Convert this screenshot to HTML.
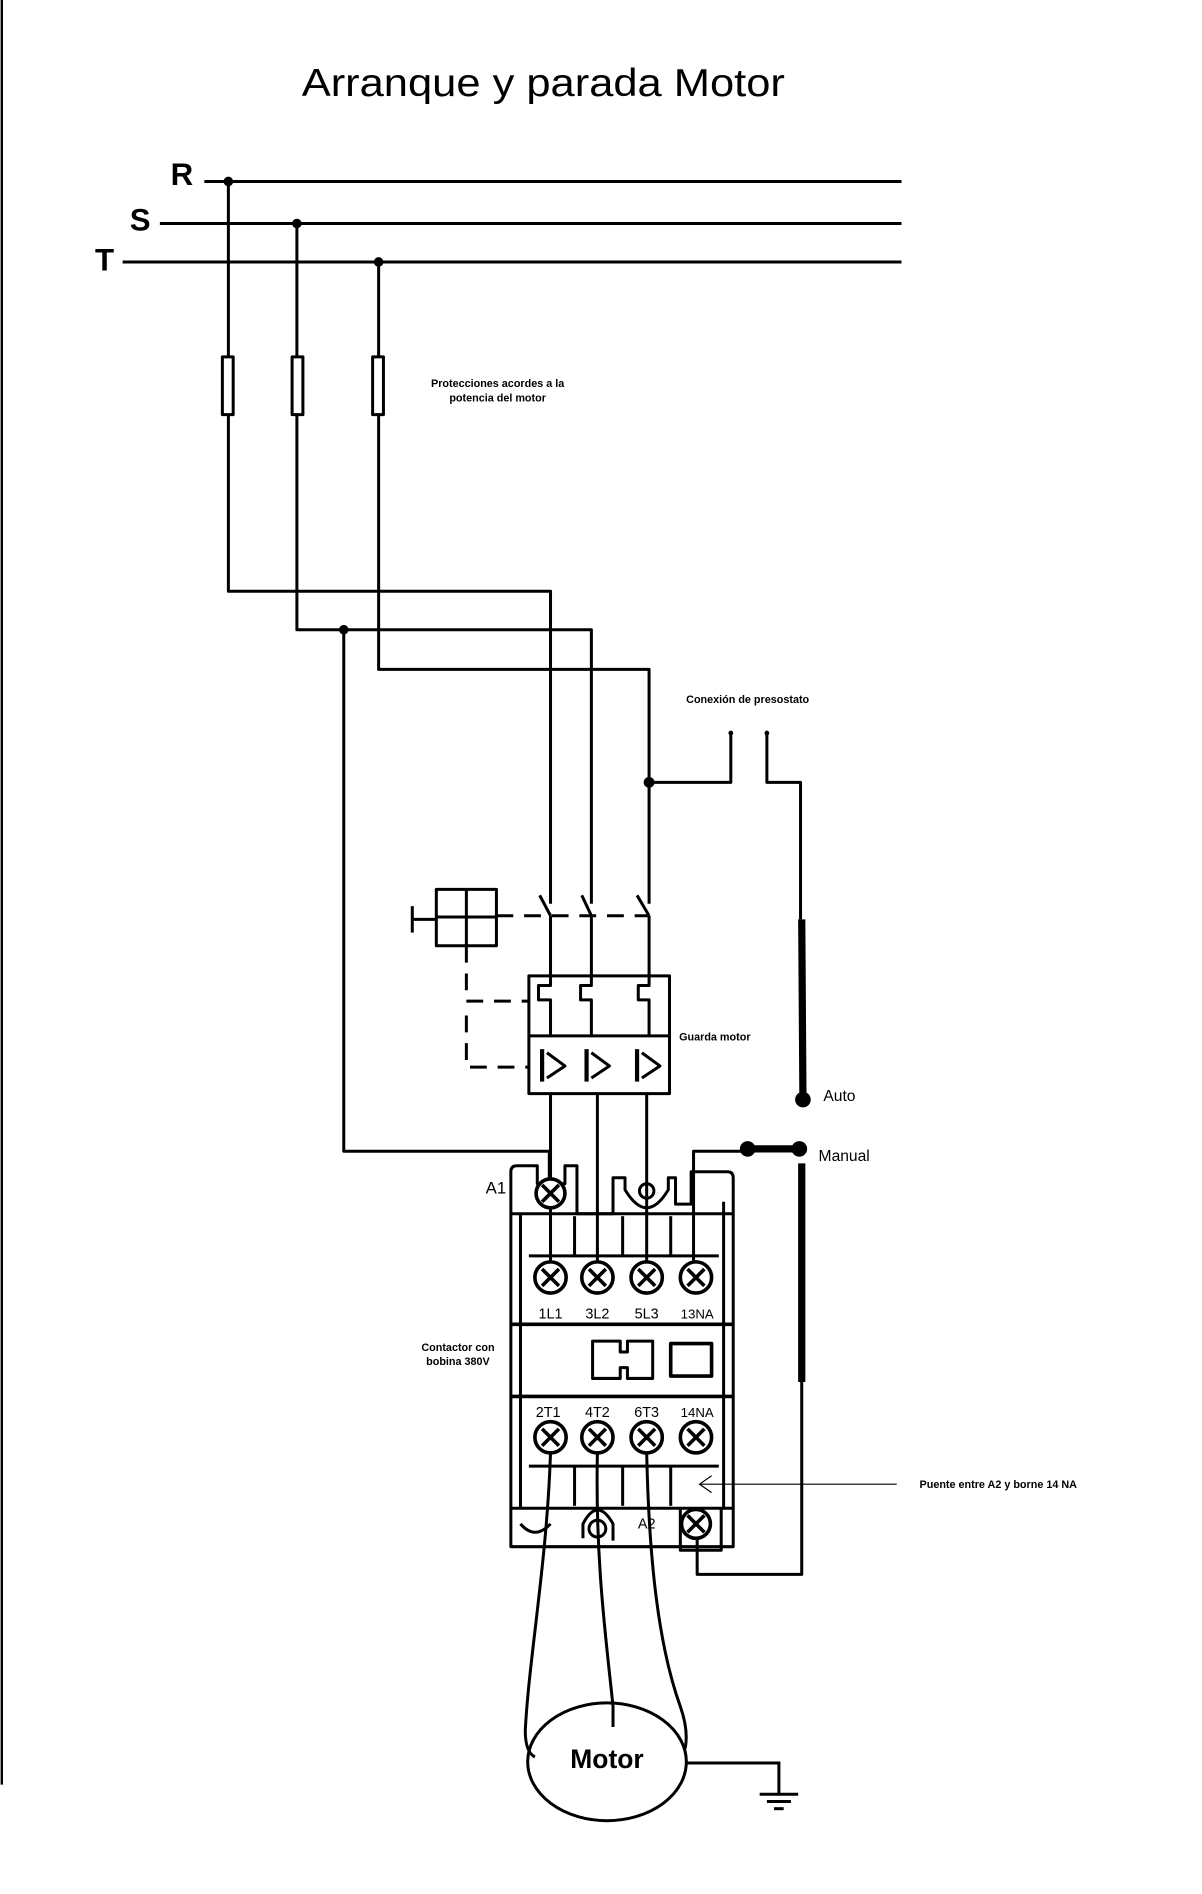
<!DOCTYPE html>
<html><head><meta charset="utf-8"><style>
html,body{margin:0;padding:0;background:#fff}
svg{display:block}
text{font-family:"Liberation Sans",sans-serif;fill:#000}
</style></head><body>
<svg width="1202" height="1894" viewBox="0 0 1000 1576" preserveAspectRatio="none" xmlns="http://www.w3.org/2000/svg">
<g fill="none" stroke="#000" stroke-width="2.5" stroke-linejoin="round">
<line x1="1.5" y1="0" x2="1.5" y2="1485" stroke-width="2"/>
<!-- buses -->
<line x1="170" y1="151" x2="750" y2="151"/>
<line x1="133" y1="186" x2="750" y2="186"/>
<line x1="102" y1="218" x2="750" y2="218"/>
<!-- verticals -->
<polyline points="190,151 190,492 458,492 458,752"/>
<polyline points="247,186 247,524 492,524 492,752"/>
<polyline points="315,218 315,557 540,557 540,752"/>
<polyline points="286,524 286,958 457,958 457,985"/>
<!-- fuses -->
<rect x="185" y="297" width="9" height="48" fill="#fff"/>
<rect x="243" y="297" width="9" height="48" fill="#fff"/>
<rect x="310" y="297" width="9" height="48" fill="#fff"/>
<!-- presostato -->
<polyline points="540,651 608,651 608,610"/>
<polyline points="638,610 638,651 666,651 666,765"/>
<line x1="667" y1="765" x2="668" y2="915" stroke-width="6"/>
<line x1="667" y1="968" x2="667" y2="1150" stroke-width="6"/>
<polyline points="667,1150 667,1310 580,1310 580,1268"/>
<line x1="622" y1="956" x2="665" y2="956" stroke-width="6"/>
<polyline points="622,958 577,958 577,1062"/>
<!-- switch blades -->
<line x1="449" y1="745" x2="458" y2="762"/><line x1="458" y1="762" x2="458" y2="812"/>
<line x1="484" y1="745" x2="492" y2="762"/><line x1="492" y1="762" x2="492" y2="812"/>
<line x1="530" y1="745" x2="540" y2="762"/><line x1="540" y1="762" x2="540" y2="812"/>
<!-- dashed mechanical link -->
<line x1="413" y1="762" x2="540" y2="762" stroke-dasharray="14,9"/>
<polyline points="388,787 388,833 440,833" stroke-dasharray="14,9"/>
<polyline points="388,845 388,888 440,888" stroke-dasharray="14,9"/>
<line x1="343" y1="754" x2="343" y2="776"/><line x1="343" y1="765" x2="363" y2="765"/>
<rect x="363" y="740" width="50" height="47"/>
<line x1="388" y1="740" x2="388" y2="787"/><line x1="363" y1="763" x2="413" y2="763"/>
<!-- guarda motor -->
<rect x="440" y="812" width="117" height="98"/>
<line x1="440" y1="862" x2="557" y2="862"/>
<polyline points="458,812 458,820 448,820 448,832 458,832 458,862"/>
<polyline points="492,812 492,820 483,820 483,832 492,832 492,862"/>
<polyline points="540,812 540,820 531,820 531,832 540,832 540,862"/>
<line x1="451" y1="873" x2="451" y2="900" stroke-width="3.5"/><polyline points="455,876 470,887 455,897"/>
<line x1="488" y1="873" x2="488" y2="900" stroke-width="3.5"/><polyline points="492,876 507,887 492,897"/>
<line x1="530" y1="873" x2="530" y2="900" stroke-width="3.5"/><polyline points="534,876 549,887 534,897"/>
<line x1="458" y1="910" x2="458" y2="1062"/>
<line x1="497" y1="910" x2="497" y2="1062"/>
<line x1="538" y1="910" x2="538" y2="1062"/>
<!-- contactor -->
<path d="M425,1287 L425,975 Q425,970 430,970 L447,970 L447,985 L470,985 L470,970 L480,970 L480,1010 L510,1010 L510,980 L520,980 L520,990 Q538,1020 556,990 L556,980 L562,980 L562,1002 L575,1002 L575,975 L605,975 Q610,975 610,980 L610,1287 Z"/>
<line x1="425" y1="1010" x2="610" y2="1010"/>
<line x1="433" y1="1010" x2="433" y2="1255"/><line x1="602" y1="1000" x2="602" y2="1255"/>
<line x1="440" y1="1045" x2="598" y2="1045"/>
<line x1="478" y1="1012" x2="478" y2="1045"/><line x1="518" y1="1012" x2="518" y2="1045"/><line x1="558" y1="1012" x2="558" y2="1045"/>
<line x1="425" y1="1102" x2="610" y2="1102" stroke-width="3"/>
<line x1="425" y1="1162" x2="610" y2="1162" stroke-width="3"/>
<line x1="440" y1="1220" x2="598" y2="1220"/>
<line x1="478" y1="1220" x2="478" y2="1253"/><line x1="518" y1="1220" x2="518" y2="1253"/><line x1="558" y1="1220" x2="558" y2="1253"/>
<line x1="425" y1="1255" x2="610" y2="1255"/>
<path d="M485,1280 L485,1268 Q497,1245 510,1268 L510,1282"/>
<circle cx="497" cy="1272" r="7"/>
<path d="M433,1268 Q445,1282 458,1268"/>
<path d="M566,1255 L566,1290 L600,1290 L600,1255"/>
<path d="M493,1116 H516 V1125 H522 V1116 H543 V1147 H522 V1138 H516 V1147 H493 Z"/>
<rect x="558" y="1118" width="34" height="27" stroke-width="3"/>
<circle cx="538" cy="991" r="6"/>
</g>
<!-- terminals -->
<g id="t" stroke="#000" fill="#fff" stroke-width="3">
<circle cx="458" cy="993" r="12"/>
<circle cx="458" cy="1063" r="13"/><circle cx="497" cy="1063" r="13"/><circle cx="538" cy="1063" r="13"/><circle cx="579" cy="1063" r="13"/>
<circle cx="458" cy="1196" r="13"/><circle cx="497" cy="1196" r="13"/><circle cx="538" cy="1196" r="13"/><circle cx="579" cy="1196" r="13"/>
<circle cx="579" cy="1268" r="12"/>
</g>
<g stroke="#000" stroke-width="3">
<path d="M451,986 l14,14 M465,986 l-14,14 M451,1056 l14,14 M465,1056 l-14,14 M490,1056 l14,14 M504,1056 l-14,14 M531,1056 l14,14 M545,1056 l-14,14 M572,1056 l14,14 M586,1056 l-14,14 M451,1189 l14,14 M465,1189 l-14,14 M490,1189 l14,14 M504,1189 l-14,14 M531,1189 l14,14 M545,1189 l-14,14 M572,1189 l14,14 M586,1189 l-14,14 M572,1261 l14,14 M586,1261 l-14,14"/>
</g>
<!-- motor wires -->
<g fill="none" stroke="#000" stroke-width="2.5">
<path d="M458,1209 C455,1300 440,1380 437,1440 Q437,1458 445,1462"/>
<path d="M497,1209 C495,1300 505,1370 510,1420 L510,1437"/>
<path d="M538,1209 C540,1300 548,1370 566,1420 Q573,1440 570,1455"/>
<ellipse cx="505" cy="1466" rx="66" ry="49"/>
<polyline points="571,1467 648,1467 648,1493"/>
<line x1="632" y1="1493" x2="664" y2="1493"/><line x1="638" y1="1499" x2="658" y2="1499"/><line x1="644" y1="1505" x2="652" y2="1505"/>
<line x1="582" y1="1235" x2="746" y2="1235" stroke-width="1"/>
<polyline points="592,1228 582,1235 592,1242" stroke-width="1"/>
</g>
<!-- dots -->
<g fill="#000">
<circle cx="190" cy="151" r="4"/><circle cx="247" cy="186" r="4"/><circle cx="315" cy="218" r="4"/>
<circle cx="286" cy="524" r="4"/><circle cx="540" cy="651" r="4.5"/>
<circle cx="608" cy="610" r="2"/><circle cx="638" cy="610" r="2"/>
<circle cx="668" cy="915" r="6.5"/><circle cx="622" cy="956" r="6.5"/><circle cx="665" cy="956" r="6.5"/>
</g>
<!-- text -->
<text x="452" y="80" font-size="32" text-anchor="middle" textLength="402" lengthAdjust="spacingAndGlyphs">Arranque y parada Motor</text>
<text x="142" y="154" font-size="26" font-weight="bold">R</text>
<text x="108" y="192" font-size="26" font-weight="bold">S</text>
<text x="79" y="225" font-size="26" font-weight="bold">T</text>
<text x="414" y="322" font-size="9" font-weight="bold" text-anchor="middle">Protecciones acordes a la</text>
<text x="414" y="334" font-size="9" font-weight="bold" text-anchor="middle">potencia del motor</text>
<text x="622" y="585" font-size="9" font-weight="bold" text-anchor="middle">Conexión de presostato</text>
<text x="565" y="866" font-size="9" font-weight="bold">Guarda motor</text>
<text x="685" y="916" font-size="13">Auto</text>
<text x="681" y="966" font-size="13">Manual</text>
<text x="404" y="993" font-size="14">A1</text>
<g font-size="12" text-anchor="middle">
<text x="458" y="1097">1L1</text><text x="497" y="1097">3L2</text><text x="538" y="1097">5L3</text><text x="580" y="1097" font-size="11">13NA</text>
<text x="456" y="1179">2T1</text><text x="497" y="1179">4T2</text><text x="538" y="1179">6T3</text><text x="580" y="1179" font-size="11">14NA</text>
<text x="538" y="1272">A2</text>
</g>
<text x="381" y="1124" font-size="9" font-weight="bold" text-anchor="middle">Contactor con</text>
<text x="381" y="1136" font-size="9" font-weight="bold" text-anchor="middle">bobina 380V</text>
<text x="765" y="1238" font-size="9" font-weight="bold">Puente entre A2 y borne 14 NA</text>
<text x="505" y="1471" font-size="22" font-weight="bold" text-anchor="middle">Motor</text>
</svg>
</body></html>
